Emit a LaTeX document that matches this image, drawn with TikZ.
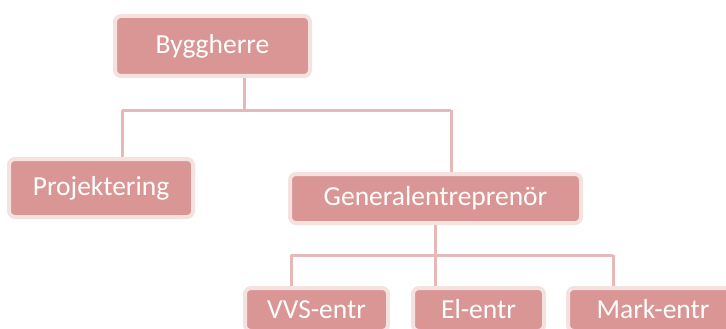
\documentclass[tikz,border=0pt]{standalone}
\usepackage{fontspec}
\setmainfont{Carlito}
\usepackage{tikz}
\usetikzlibrary{positioning,calc}
\definecolor{rosa}{HTML}{D99694}
\definecolor{rosaedge}{HTML}{F4E2E1}
\definecolor{rosaline}{HTML}{E6B9B8}

\begin{document}
\begin{tikzpicture}[x=1pt,y=-1pt,
 box/.style={draw=rosaedge,fill=rosa,line width=4pt,rounded corners=6pt,
 text=white,font=\fontsize{27.5}{32}\selectfont,inner sep=0pt},
 conn/.style={draw=rosaline,line width=3pt}]
\useasboundingbox (0,0) rectangle (726,329);
\node[box,minimum width=195pt,minimum height=60pt] (bygg) at (212.5,46) {Byggherre};
\node[box,minimum width=184pt,minimum height=58pt] (proj) at (101,188) {Projektering};
\node[box,minimum width=291pt,minimum height=49pt] (gen) at (435.5,198.5) {Generalentreprenör};
\node[box,minimum width=143pt,minimum height=43pt] (vvs) at (316.5,309.5) {VVS-entr};
\node[box,minimum width=131pt,minimum height=43pt,right=21pt of vvs] (el) {El-entr};
\node[box,minimum width=170pt,minimum height=43pt,right=20pt of el] (mark) {Mark-entr};
% upper level
\coordinate (top) at (244,110);
\coordinate (pl) at (122,110);\coordinate (pr) at (451,110);
\draw[conn] (bygg.south -| top)--(top);
\draw[conn] (pl)--(pr);
\draw[conn] (pl)--(pl |- proj.north);\draw[conn] (pr)--(pr |- gen.north);
% lower level
\coordinate (ql) at (291,255);\coordinate (qr) at (613,255);
\draw[conn] (ql)--(qr);
\draw[conn] (gen.south)--(gen.south |- el.north);
\draw[conn] (ql)--(ql |- vvs.north);\draw[conn] (qr)--(qr |- mark.north);
\end{tikzpicture}
\end{document}
